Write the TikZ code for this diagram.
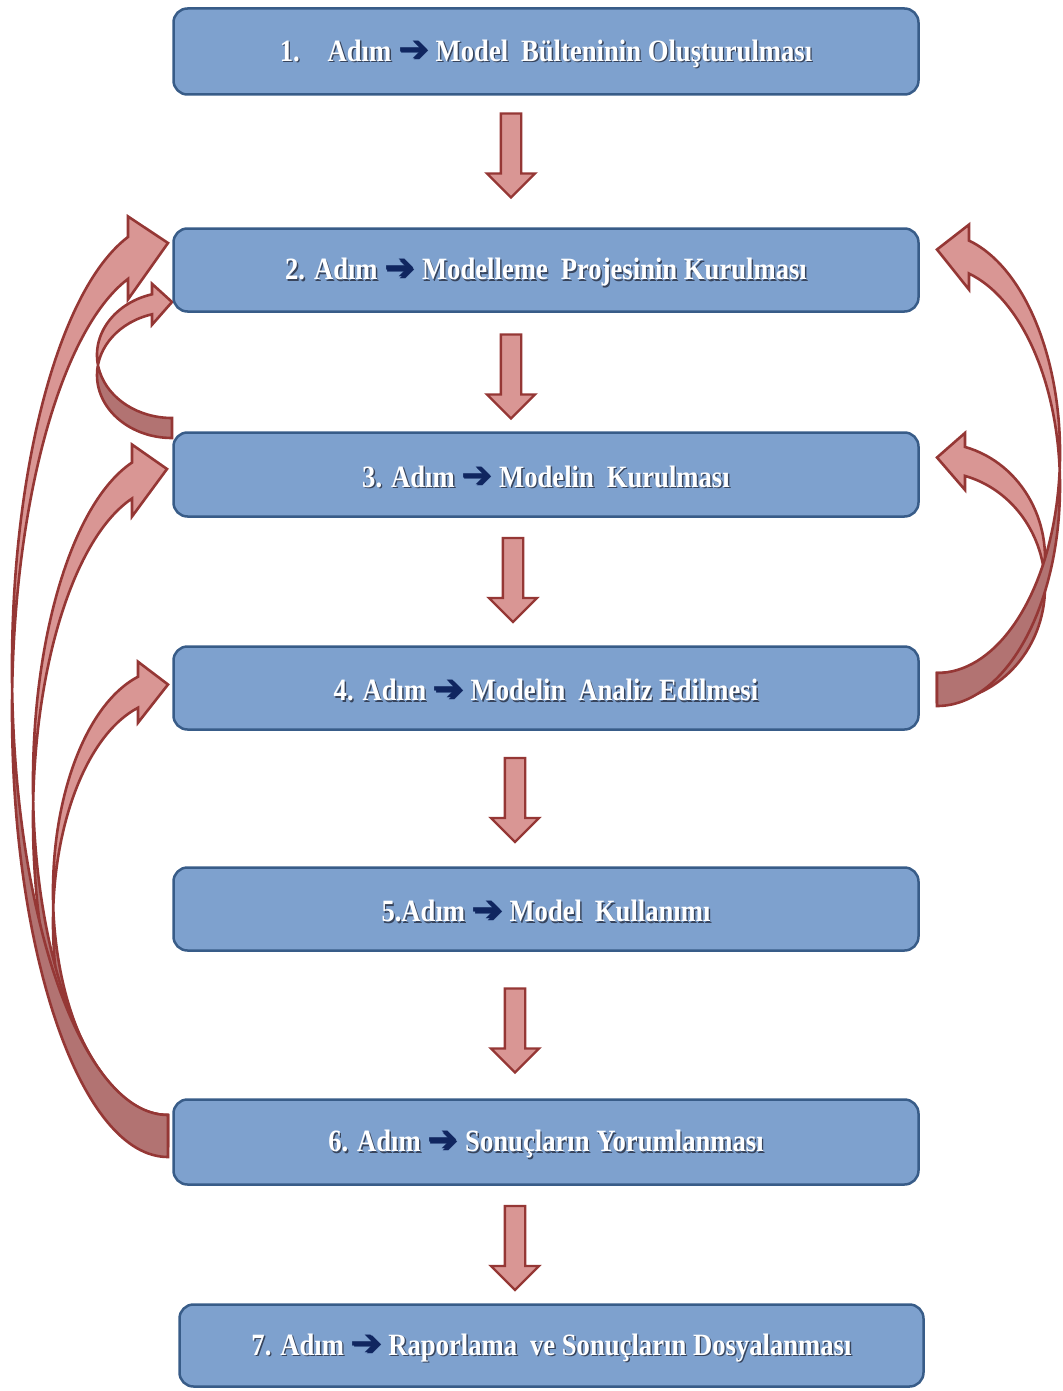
\documentclass[tikz,border=0pt]{standalone}
\usepackage{fontspec}
\usetikzlibrary{shapes.arrows}

\newfontfamily\labelfont{Liberation Serif}[FakeStretch=0.86]
\newfontfamily\symfont{DejaVu Sans}

\definecolor{boxfill}{RGB}{126,161,206}
\definecolor{boxline}{RGB}{56,92,136}
\definecolor{arrowfill}{RGB}{217,150,148}
\definecolor{arrowback}{RGB}{178,115,114}
\definecolor{arrowline}{RGB}{149,55,53}
\definecolor{navy}{RGB}{16,38,96}
\definecolor{txtshadow}{RGB}{55,68,92}

% heavy right arrow between step number and step title
\newcommand\arr{{\fontsize{37}{37}\selectfont\symfont\textcolor{navy}{➔}}}
% white step label with a soft dark drop shadow, set slightly low in its box
\newcommand\steplabel[1]{\fontsize{31}{34}\selectfont\labelfont\bfseries
  \raisebox{-3pt}[\height][\depth]{%
  \makebox[0pt][l]{\kern1.4pt\raisebox{-1.4pt}{\color{txtshadow}#1}}#1}}
\newcommand\gap{\hspace{0.2em}}

% twisted curved feedback arrow (ribbon with front and back face)
% #1 side (1 = bulges left, -1 = bulges right), #2 x of tail/tip,
% #3 horizontal radius, #4 y of ellipse centre, #5 vertical radius,
% #6 ribbon thickness, #7 head width, #8 head length
\newcommand{\bentarrow}[8]{%
  \pgfmathsetmacro\phiA{acos(#8/#3)}%
  \pgfmathsetmacro\endA{180+\phiA}%
  \pgfmathsetmacro\neckA{#4-#5*sin(\phiA)}%
  \pgfmathsetmacro\neckB{\neckA+#6}%
  \pgfmathsetmacro\barbA{\neckA-(#7-#6)/2}%
  \pgfmathsetmacro\barbB{\neckB+(#7-#6)/2}%
  \pgfmathsetmacro\tipY{#4-#5+#6/2}%
  \pgfmathsetmacro\tailB{#4+#5+#6}%
  \begin{scope}[shift={(#2,0)},xscale=#1]
    \fill[arrowback] (-#3,#4) arc[start angle=180,end angle=90,x radius=#3,y radius=#5]
      -- (0,\tailB) arc[start angle=90,end angle=180,x radius=#3,y radius=#5] -- cycle;
    \fill[arrowfill] (-#3,#4) arc[start angle=180,end angle=\endA,x radius=#3,y radius=#5]
      -- (-#8,\barbA) -- (0,\tipY) -- (-#8,\barbB) -- (-#8,\neckB)
      arc[start angle=\endA,end angle=180,x radius=#3,y radius=#5] -- cycle;
    \draw[bentline] (0,\tailB) arc[start angle=90,end angle=\endA,x radius=#3,y radius=#5]
      -- (-#8,\barbB) -- (0,\tipY) -- (-#8,\barbA) -- (-#8,\neckA)
      arc[start angle=\endA,end angle=90,x radius=#3,y radius=#5] -- cycle;
  \end{scope}}

\tikzset{
  stepbox/.style={draw=boxline, fill=boxfill, line width=2.5pt, rounded corners=14pt,
    minimum width=745pt, inner sep=0pt, text=white},
  downarrow/.style={single arrow, draw=arrowline, fill=arrowfill, line width=2.3pt,
    minimum height=84pt, inner xsep=0pt, inner ysep=9pt,
    single arrow head extend=14pt, rotate=-90},
  bentline/.style={draw=arrowline, line width=2.6pt, line join=miter}
}

\begin{document}
\begin{tikzpicture}[x=1pt,y=-1pt]
\useasboundingbox (0,0) rectangle (1062,1391);

% feedback arrows on the left: 3 -> 2, and 6 -> 4, 3, 2
\bentarrow{1}{172}{75}{355}{63}{20}{41}{20}
\bentarrow{1}{168}{115}{892}{223}{31}{61}{30}
\bentarrow{1}{167}{134}{783}{332}{36}{72}{35}
\bentarrow{1}{168}{156}{668.5}{446.5}{42}{83}{40}
% feedback arrows on the right: 4 -> 3, 2
\bentarrow{-1}{937}{108}{558}{115}{29}{57}{28}
\bentarrow{-1}{937}{123}{453}{220}{33}{65}{32}

% process steps
\node[stepbox, minimum height=86pt] (s1) at (546,51.5)
  {\steplabel{1.\hspace{0.9em}Adım \arr{} Model\gap{} Bülteninin Oluşturulması}};
\node[stepbox, minimum height=83pt] (s2) at (546,270)
  {\steplabel{2. Adım \arr{} Modelleme\gap{} Projesinin Kurulması}};
\node[stepbox, minimum height=84pt] (s3) at (546,474.5)
  {\steplabel{3. Adım \arr{} Modelin\gap{} Kurulması}};
\node[stepbox, minimum height=83pt] (s4) at (546,688)
  {\steplabel{4. Adım \arr{} Modelin\gap{} Analiz Edilmesi}};
\node[stepbox, minimum height=83pt] (s5) at (546,909)
  {\steplabel{5.Adım \arr{} Model\gap{} Kullanımı}};
\node[stepbox, minimum height=85pt] (s6) at (546,1142)
  {\steplabel{6. Adım \arr{} Sonuçların Yorumlanması}};
\node[stepbox, minimum height=82pt, minimum width=744pt] (s7) at (551.5,1345.5)
  {\steplabel{7. Adım \arr{} Raporlama\gap{} ve Sonuçların Dosyalanması}};

% downward arrows between consecutive steps
\node[downarrow] (d1) at (511,150.5) {};
\node[downarrow] (d2) at (511,371.5) {};
\node[downarrow] (d3) at (513,575) {};
\node[downarrow] (d4) at (515,795) {};
\node[downarrow] (d5) at (515,1025.5) {};
\node[downarrow] (d6) at (515,1243) {};
\end{tikzpicture}
\end{document}
